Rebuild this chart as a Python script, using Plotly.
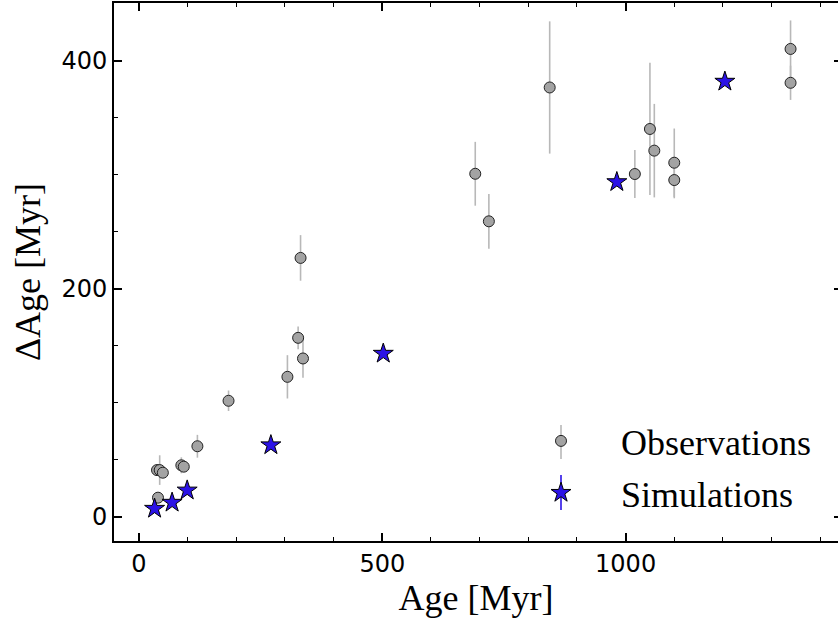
import plotly.graph_objects as go

# Observations
obs_age = [39, 37, 42.5, 49, 87, 92, 120, 184, 305, 327, 332, 337, 691, 719, 844, 1019, 1050, 1059, 1100, 1100, 1339, 1339]
obs_dage = [16.6, 40.8, 40.8, 38.5, 45, 43.8, 61.7, 101.6, 122.6, 156.8, 226.9, 138.7, 300.7, 259, 376.4, 300.5, 340, 321, 310.4, 295.2, 410.2, 380.5]
obs_err = [3, 4, 13, 4, 7, 4, 10, 9, 19, 10, 20, 17, 28, 24, 58, 21, 58, 41, 30, 16, 25, 15]

# Simulations
sim_age = [32, 68, 99, 271, 502, 982, 1204]
sim_dage = [7, 12.3, 23, 62.7, 143, 293.5, 381.6]

x_ticks = [0, 500, 1000]
y_ticks = [0, 200, 400]

serif = "Liberation Serif"
sans = "DejaVu Sans"

fig = go.Figure()
fig.add_trace(go.Scatter(
    x=obs_age, y=obs_dage, mode="markers", name="Observations",
    marker=dict(symbol="circle", size=11, color="#a3a3a3", line=dict(color="#222222", width=1)),
    error_y=dict(type="data", array=obs_err, visible=True, color="#b8b8b8", thickness=1.6, width=0),
    legendgroup="a",
))
fig.add_trace(go.Scatter(
    x=sim_age, y=sim_dage, mode="markers", name="Simulations",
    marker=dict(symbol="star", size=15, color="#2b12e6", line=dict(color="#000000", width=1)),
    legendgroup="b",
))
# right-side ticks
fig.add_trace(go.Scatter(x=[None], y=[None], yaxis="y2", showlegend=False))

# legend error-bar decorations (paper coords)
lx = (561 - 114) / 724
fig.add_shape(type="line", xref="paper", yref="paper", x0=lx, x1=lx,
              y0=(541 - 425) / 538, y1=(541 - 459) / 538,
              line=dict(color="#b8b8b8", width=1.6), layer="below")
fig.add_shape(type="line", xref="paper", yref="paper", x0=lx, x1=lx,
              y0=(541 - 475) / 538, y1=(541 - 510) / 538,
              line=dict(color="#2b12e6", width=1.6), layer="below")

fig.update_layout(
    width=838, height=624,
    margin=dict(l=114, r=0, t=3, b=83),
    plot_bgcolor="white", paper_bgcolor="white",
    showlegend=True,
    legend=dict(x=(501 - 114) / 724, y=(541 - 411) / 538, xanchor="left", yanchor="top",
                bgcolor="rgba(0,0,0,0)", font=dict(family=serif, size=36, color="black"),
                itemwidth=110, tracegroupgap=2),
    xaxis=dict(range=[-51.4, 1436.5], tickvals=x_ticks, ticks="inside", ticklen=8, tickwidth=2,
               tickcolor="black", showline=True, linewidth=2, linecolor="black", mirror="ticks",
               showgrid=False, zeroline=False,
               tickfont=dict(family=sans, size=24, color="black"),
               minor=dict(dtick=100, tick0=0, ticks="inside", ticklen=4, tickwidth=1, tickcolor="black", showgrid=False),
               title=dict(text="Age [Myr]", font=dict(family=serif, size=36, color="black"), standoff=3)),
    yaxis=dict(range=[-21.4, 450.5], tickvals=y_ticks, ticks="inside", ticklen=8, tickwidth=2,
               tickcolor="black", showline=True, linewidth=2, linecolor="black", mirror=False,
               showgrid=False, zeroline=False,
               tickfont=dict(family=sans, size=24, color="black"),
               minor=dict(dtick=50, tick0=0, ticks="inside", ticklen=4, tickwidth=1, tickcolor="black", showgrid=False),
               title=dict(text="ΔAge [Myr]", font=dict(family=serif, size=36, color="black"), standoff=10)),
    yaxis2=dict(range=[-21.4, 450.5], overlaying="y", side="right", tickvals=y_ticks, ticks="inside",
                ticklen=4, tickwidth=2, tickcolor="black", showticklabels=False, showline=False,
                showgrid=False, zeroline=False),
)

fig.write_html("out.html")
